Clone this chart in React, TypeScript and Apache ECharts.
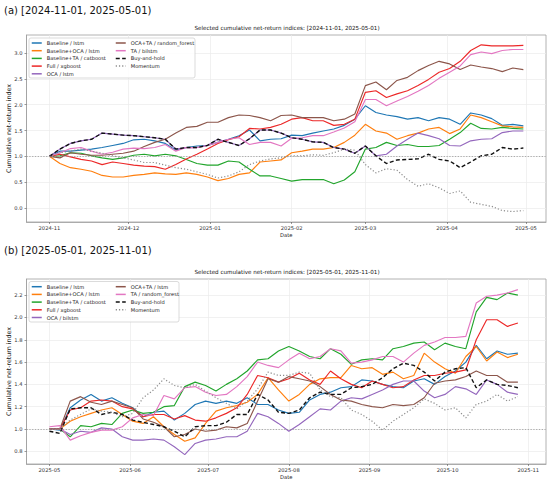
import React, { useEffect, useRef } from "react";
import * as echarts from "echarts";

const DAY = 86400000;
const STEP_DAYS = 4;
const START_A = Date.UTC(2024, 10, 1);
const START_B = Date.UTC(2025, 4, 1);

const TITLE_A = "(a) [2024-11-01, 2025-05-01)";
const TITLE_B = "(b) [2025-05-01, 2025-11-01)";
const SUB_A = "Selected cumulative net-return indices: [2024-11-01, 2025-05-01)";
const SUB_B = "Selected cumulative net-return indices: [2025-05-01, 2025-11-01)";
const Y_NAME = "Cumulative net-return index";
const X_NAME = "Date";

const X_TICKS_A = ["2024-11", "2024-12", "2025-01", "2025-02", "2025-03", "2025-04", "2025-05"];
const X_TICKS_B = ["2025-05", "2025-06", "2025-07", "2025-08", "2025-09", "2025-10", "2025-11"];
const Y_TICKS_A = [0.0, 0.5, 1.0, 1.5, 2.0, 2.5, 3.0];
const Y_TICKS_B = [0.8, 1.0, 1.2, 1.4, 1.6, 1.8, 2.0, 2.2];

const NAMES_A = [
  "Baseline / lstm",
  "Baseline+OCA / lstm",
  "Baseline+TA / catboost",
  "Full / xgboost",
  "OCA / lstm",
  "OCA+TA / random_forest",
  "TA / bilstm",
  "Buy-and-hold",
  "Momentum",
];
const NAMES_B = [
  "Baseline / lstm",
  "Baseline+OCA / lstm",
  "Baseline+TA / catboost",
  "Full / xgboost",
  "OCA / bilstm",
  "OCA+TA / lstm",
  "TA / random_forest",
  "Buy-and-hold",
  "Momentum",
];
const COLORS = ["#1f77b4", "#ff7f0e", "#22a52c", "#ec2828", "#9467bd", "#8c564b", "#e377c2", "#111111", "#8c8c8c"];

// Panel (a): one value every 4 days from 2024-11-01
const A_BASE_LSTM = [1.00,1.10,1.10,1.12,1.14,1.17,1.21,1.25,1.32,1.33,1.30,1.25,1.12,1.17,1.20,1.21,1.27,1.33,1.40,1.51,1.30,1.33,1.34,1.41,1.40,1.45,1.49,1.53,1.60,1.72,1.98,1.85,1.80,1.77,1.72,1.75,1.69,1.75,1.72,1.62,1.84,1.80,1.73,1.60,1.62,1.59];
const A_BASE_OCA = [1.00,0.86,0.78,0.75,0.71,0.63,0.60,0.60,0.63,0.65,0.68,0.66,0.65,0.68,0.65,0.60,0.53,0.57,0.65,0.68,0.89,0.91,0.93,1.07,1.10,1.14,1.14,1.17,1.27,1.41,1.62,1.49,1.45,1.33,1.40,1.45,1.53,1.56,1.44,1.53,1.80,1.75,1.67,1.59,1.57,1.56];
const A_BASE_TA = [1.00,1.01,1.07,1.06,1.01,0.97,0.94,0.97,1.02,1.04,1.01,1.04,1.01,0.94,0.86,0.83,0.83,0.91,0.89,0.75,0.62,0.62,0.57,0.52,0.55,0.55,0.55,0.47,0.54,0.70,1.14,1.17,1.27,1.21,1.23,1.19,1.19,1.21,1.33,1.46,1.64,1.54,1.53,1.56,1.54,1.53];
const A_FULL = [1.00,1.04,0.99,0.94,0.91,0.84,0.89,0.86,0.83,0.81,0.80,0.75,0.84,0.95,1.04,1.14,1.25,1.32,1.38,1.54,1.53,1.56,1.62,1.72,1.75,1.69,1.69,1.60,1.62,1.72,2.24,2.27,2.14,2.21,2.27,2.37,2.49,2.63,2.70,2.84,3.05,3.16,3.14,3.14,3.14,3.15];
const A_OCA = [1.00,1.14,1.25,1.30,1.33,1.45,1.43,1.41,1.40,1.38,1.36,1.33,1.14,1.17,1.17,1.21,1.33,1.27,1.21,1.34,1.51,1.51,1.45,1.36,1.33,1.28,1.27,1.17,1.14,1.06,1.20,1.01,1.04,1.20,1.33,1.45,1.40,1.34,1.21,1.20,1.30,1.33,1.34,1.46,1.49,1.49];
const A_OCA_TA = [1.00,0.97,1.07,1.04,1.02,1.02,1.04,1.06,1.10,1.19,1.27,1.33,1.45,1.56,1.58,1.66,1.66,1.75,1.80,1.79,1.75,1.69,1.79,1.80,1.75,1.75,1.75,1.69,1.72,1.82,2.37,2.44,2.29,2.47,2.53,2.66,2.76,2.84,2.79,2.68,2.77,2.73,2.70,2.64,2.71,2.68];
const A_TA = [1.00,1.07,1.15,1.17,1.10,1.04,1.08,1.14,1.16,1.15,1.17,1.23,1.10,1.17,1.17,1.21,1.27,1.33,1.36,1.23,1.27,1.27,1.20,1.35,1.36,1.40,1.40,1.47,1.55,1.67,2.10,2.10,1.98,2.07,2.16,2.26,2.37,2.51,2.63,2.75,2.97,3.02,2.99,3.05,3.07,3.07];
const A_BUY = [1.00,1.14,1.25,1.30,1.33,1.45,1.43,1.41,1.40,1.38,1.36,1.33,1.14,1.17,1.17,1.21,1.33,1.27,1.21,1.34,1.51,1.51,1.45,1.36,1.33,1.28,1.27,1.17,1.14,1.06,1.20,1.01,0.86,0.93,0.94,0.95,1.04,0.94,0.91,0.78,0.89,1.01,1.04,1.17,1.14,1.16];
const A_MOM = [1.00,1.07,1.10,1.14,1.10,1.06,1.01,0.97,0.93,0.88,0.88,0.83,0.78,0.75,0.70,0.65,0.58,0.62,0.70,0.84,0.91,0.95,0.97,1.01,1.01,1.03,1.02,1.07,1.14,1.12,0.84,0.68,0.76,0.73,0.55,0.42,0.47,0.39,0.28,0.33,0.11,0.07,0.03,-0.05,-0.07,-0.05];

// Panel (b): one value every 4 days from 2025-05-01
const B_BASE_LSTM = [1.00,0.99,1.19,1.26,1.31,1.25,1.28,1.23,1.19,1.11,1.15,1.16,1.08,1.14,1.22,1.25,1.23,1.25,1.23,1.28,1.22,1.22,1.17,1.14,1.15,1.26,1.31,1.33,1.37,1.38,1.44,1.43,1.40,1.38,1.37,1.43,1.45,1.40,1.47,1.52,1.60,1.75,1.63,1.70,1.67,1.68];
const B_BASE_OCA = [1.00,1.00,1.07,1.11,1.14,1.17,1.19,1.13,1.07,1.05,1.11,1.02,0.95,0.89,0.92,1.05,1.16,1.19,1.21,1.24,1.31,1.46,1.35,1.25,1.31,1.40,1.45,1.46,1.46,1.57,1.54,1.55,1.49,1.51,1.45,1.48,1.68,1.60,1.54,1.50,1.65,1.74,1.61,1.69,1.64,1.67];
const B_BASE_TA = [1.00,1.00,0.93,1.03,1.02,1.05,1.04,1.14,1.17,1.14,1.15,1.20,1.21,1.38,1.42,1.39,1.34,1.40,1.45,1.52,1.62,1.63,1.70,1.74,1.70,1.65,1.63,1.72,1.67,1.58,1.62,1.63,1.62,1.72,1.74,1.77,1.78,1.71,1.77,1.74,1.72,2.05,2.18,2.16,2.22,2.20];
const B_FULL = [1.00,1.00,1.17,1.19,1.25,1.26,1.25,1.20,1.18,1.11,1.13,1.13,1.09,1.12,1.08,1.07,1.10,1.14,1.19,1.31,1.48,1.46,1.42,1.45,1.50,1.44,1.40,1.52,1.45,1.40,1.37,1.43,1.40,1.37,1.38,1.44,1.48,1.48,1.50,1.51,1.53,1.80,1.98,1.98,1.92,1.95];
const B_OCA = [1.00,1.00,0.95,0.98,0.97,1.01,1.00,0.93,0.90,0.90,0.91,0.90,0.84,0.77,0.87,0.90,0.91,0.93,0.93,0.98,1.14,1.11,1.05,0.98,1.04,1.11,1.18,1.17,1.25,1.28,1.27,1.31,1.35,1.40,1.43,1.43,1.34,1.28,1.31,1.38,1.36,1.31,1.44,1.40,1.33,1.31];
const B_OCA_TA = [1.00,1.00,1.25,1.29,1.24,1.22,1.25,1.22,1.19,1.09,1.06,1.02,0.93,0.95,1.00,0.98,0.99,1.02,1.01,1.05,1.25,1.45,1.42,1.47,1.45,1.43,1.38,1.31,1.26,1.25,1.22,1.20,1.19,1.22,1.21,1.22,1.28,1.41,1.43,1.44,1.47,1.52,1.48,1.48,1.42,1.42];
const B_TA = [1.02,1.03,0.90,0.94,0.97,0.99,0.99,1.02,1.10,1.13,1.12,1.30,1.27,1.37,1.38,1.33,1.30,1.31,1.38,1.47,1.60,1.57,1.55,1.62,1.68,1.63,1.65,1.72,1.70,1.59,1.60,1.62,1.65,1.65,1.60,1.68,1.75,1.78,1.82,1.82,1.83,2.13,2.19,2.20,2.22,2.25];
const B_BUY = [0.98,0.96,1.18,1.19,1.19,1.13,1.15,1.13,1.08,1.06,1.04,1.02,0.98,0.93,1.02,1.03,1.03,1.06,1.13,1.13,1.31,1.26,1.15,1.14,1.17,1.28,1.33,1.31,1.31,1.37,1.38,1.40,1.46,1.54,1.59,1.57,1.51,1.43,1.51,1.54,1.55,1.37,1.44,1.40,1.39,1.37];
const B_MOM = [1.00,1.00,1.08,1.13,1.18,1.16,1.15,1.11,1.14,1.28,1.35,1.45,1.39,1.37,1.40,1.34,1.28,1.23,1.18,1.25,1.36,1.51,1.48,1.48,1.51,1.50,1.35,1.29,1.28,1.17,1.13,1.07,0.99,1.07,1.13,1.19,1.27,1.23,1.17,1.19,1.10,1.22,1.25,1.31,1.25,1.29];

const VALUES_A = [A_BASE_LSTM, A_BASE_OCA, A_BASE_TA, A_FULL, A_OCA, A_OCA_TA, A_TA, A_BUY, A_MOM];
const VALUES_B = [B_BASE_LSTM, B_BASE_OCA, B_BASE_TA, B_FULL, B_OCA, B_OCA_TA, B_TA, B_BUY, B_MOM];

const FONT = "DejaVu Sans";

// x is measured in days since the panel's start date
function toPairs(vals: number[]) {
  return vals.map((v, i) => [i * STEP_DAYS, v]);
}

function monthOffset(label: string, start: number) {
  const [y, m] = label.split("-").map(Number);
  return Math.round((Date.UTC(y, m - 1, 1) - start) / DAY);
}

function lineStyleFor(i: number) {
  if (i === 7) return { color: COLORS[i], width: 1.4, type: [4, 2.4] as any };
  if (i === 8) return { color: COLORS[i], width: 1.2, type: [1.2, 2] as any };
  return { color: COLORS[i], width: 1.15, type: "solid" as any };
}

function buildSeries(names: string[], values: number[][], axis: number) {
  return names.map((name, i) => {
    const s: any = {
      type: "line",
      name,
      xAxisIndex: axis,
      yAxisIndex: axis,
      data: toPairs(values[i]),
      symbol: "none",
      showSymbol: false,
      color: COLORS[i],
      lineStyle: lineStyleFor(i),
      emphasis: { disabled: true },
    };
    if (i === 0) {
      s.markLine = {
        silent: true,
        symbol: "none",
        label: { show: false },
        lineStyle: { color: "#9a9a9a", type: [1.3, 1.5], width: 0.8 },
        data: [{ yAxis: 1 }],
      };
    }
    return s;
  });
}

function xAxisFor(grid: number, labels: string[], start: number, lo: number, hi: number) {
  const offsets = labels.map((l) => monthOffset(l, start));
  return {
    type: "value",
    gridIndex: grid,
    min: lo,
    max: hi,
    name: X_NAME,
    nameLocation: "middle",
    nameGap: 10,
    nameMoveOverlap: false,
    nameTextStyle: { fontSize: 5.2, color: "#222", fontFamily: FONT },
    axisLine: { show: true, onZero: false, lineStyle: { color: "#a0a0a0", width: 0.8 } },
    axisTick: { show: true, length: 2, customValues: offsets, lineStyle: { color: "#555", width: 0.6 } },
    axisLabel: {
      fontSize: 5.2,
      color: "#333",
      margin: 3,
      customValues: offsets,
      fontFamily: FONT,
      formatter: (v: number) => {
        const k = offsets.findIndex((o) => Math.abs(o - v) < 0.01);
        return k >= 0 ? labels[k] : "";
      },
    },
    splitLine: { show: true, lineStyle: { color: "#ebebeb", width: 0.7 } },
  };
}

function yAxisFor(grid: number, min: number, max: number, ticks: number[]) {
  return {
    type: "value",
    gridIndex: grid,
    min,
    max,
    name: Y_NAME,
    nameLocation: "middle",
    nameGap: 15.5,
    nameMoveOverlap: false,
    nameTextStyle: { fontSize: 6.3, color: "#222", fontFamily: FONT },
    axisLine: { show: true, onZero: false, lineStyle: { color: "#a0a0a0", width: 0.8 } },
    axisTick: { show: true, length: 2, customValues: ticks, lineStyle: { color: "#555", width: 0.6 } },
    axisLabel: {
      fontSize: 5.2,
      color: "#333",
      margin: 4,
      customValues: ticks,
      fontFamily: FONT,
      formatter: (v: number) => Number(v).toFixed(1),
    },
    splitLine: { show: true, lineStyle: { color: "#ebebeb", width: 0.7 } },
  };
}

function legendFor(names: string[], left: number, top: number) {
  return {
    data: names,
    orient: "vertical",
    left,
    top,
    padding: 0,
    itemWidth: 10,
    itemHeight: 6,
    itemGap: 1.7,
    selectedMode: false,
    itemStyle: { opacity: 0, borderWidth: 0 },
    lineStyle: { width: 1.5 },
    textStyle: { fontSize: 5.1, color: "#222", lineHeight: 6, fontFamily: FONT },
  };
}

export default function App() {
  const ref = useRef<HTMLDivElement>(null);
  useEffect(() => {
    const chart = echarts.init(ref.current!, null, { renderer: "svg" });
    const option: any = {
      animation: false,
      backgroundColor: "#ffffff",
      textStyle: { fontFamily: FONT },
      grid: [
        { left: 26.5, right: 4, top: 35, height: 187, show: true, borderColor: "#a0a0a0", borderWidth: 0.8, containLabel: false, outerBoundsMode: "none" },
        { left: 26.5, right: 4, top: 279, height: 185, show: true, borderColor: "#a0a0a0", borderWidth: 0.8, containLabel: false, outerBoundsMode: "none" },
      ],
      xAxis: [xAxisFor(0, X_TICKS_A, START_A, -8.7, 188.6), xAxisFor(1, X_TICKS_B, START_B, -8.8, 190.8)],
      yAxis: [yAxisFor(0, -0.272, 3.35, Y_TICKS_A), yAxisFor(1, 0.686, 2.345, Y_TICKS_B)],
      legend: [
        legendFor(NAMES_A.slice(0, 5), 31, 40),
        legendFor(NAMES_A.slice(5), 115, 40),
        legendFor(NAMES_B.slice(0, 5), 31, 283.7),
        legendFor(NAMES_B.slice(5), 115, 283.7),
      ],
      graphic: [
        { type: "text", x: 4, y: 10, style: { text: TITLE_A, font: `10px "${FONT}"`, fill: "#111", verticalAlign: "middle" } },
        { type: "text", x: 287, y: 27.5, style: { text: SUB_A, font: `5.6px "${FONT}"`, fill: "#111", align: "center", verticalAlign: "middle" } },
        { type: "text", x: 4, y: 250, style: { text: TITLE_B, font: `10px "${FONT}"`, fill: "#111", verticalAlign: "middle" } },
        { type: "text", x: 287, y: 271.5, style: { text: SUB_B, font: `5.6px "${FONT}"`, fill: "#111", align: "center", verticalAlign: "middle" } },
        { type: "rect", z: 3, shape: { x: 29, y: 38, width: 166, height: 40, r: 2 }, style: { fill: "rgba(255,255,255,0.85)", stroke: "#cccccc", lineWidth: 0.7 } },
        { type: "rect", z: 3, shape: { x: 29, y: 281.5, width: 150, height: 40.5, r: 2 }, style: { fill: "rgba(255,255,255,0.85)", stroke: "#cccccc", lineWidth: 0.7 } },
      ],
      series: [...buildSeries(NAMES_A, VALUES_A, 0), ...buildSeries(NAMES_B, VALUES_B, 1)],
    };
    chart.setOption(option);
    return () => chart.dispose();
  }, []);
  return <div ref={ref} style={{ position: "absolute", left: 0, top: 0, width: 550, height: 485, background: "#fff" }} />;
}
